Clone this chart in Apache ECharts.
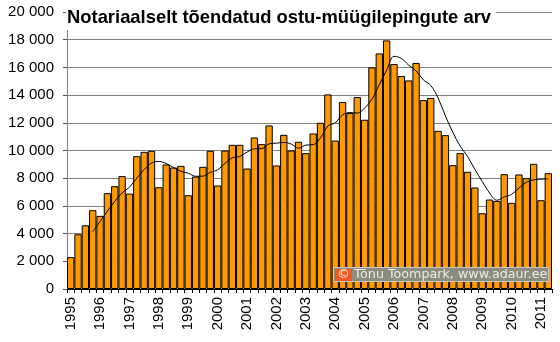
<!DOCTYPE html>
<html>
<head>
<meta charset="utf-8">
<script src="https://cdn.jsdelivr.net/npm/echarts@6/dist/echarts.min.js"></script>
<style>
html,body{margin:0;padding:0;background:#fff;}
#c{width:560px;height:342px;}
</style>
</head>
<body>
<div id="c"></div>
<script>
// Quarterly categories 1995 Q1 .. 2011 Q2
var years = [1995,1996,1997,1998,1999,2000,2001,2002,2003,2004,2005,2006,2007,2008,2009,2010,2011];
var quarters = [];
years.forEach(function(y){ for (var q=1;q<=4;q++){ if (y===2011 && q>2) break; quarters.push(y+' Q'+q); } });

// Number of contracts per quarter
var contracts = [
  2300, 3950, 4600, 5690,
  5280, 6920, 7420, 8150,
  6890, 9590, 9900, 9980,
  7350, 8990, 8770, 8890,
  6770, 8120, 8820, 9980,
  7470, 10000, 10410, 10410,
  8700, 10940, 10460, 11810,
  8920, 11130, 10000, 10630,
  9810, 11230, 12000, 14050,
  10720, 13500, 12700, 13860,
  12220, 16000, 17010, 17950,
  16240, 15380, 15060, 16320,
  13640, 13790, 11420, 11110,
  8940, 9810, 8460, 7330,
  5470, 6460, 6360, 8290,
  6220, 8270, 8000, 9040,
  6410, 8360
];

// Trend line (4-quarter average) values
var trend = [
  null, null, null, 4140,
  4880, 5620, 6330, 6940,
  7350, 8010, 8630, 9090,
  9210, 9060, 8770, 8500,
  8360, 8140, 8150, 8420,
  8600, 9070, 9470, 9570,
  9880, 10120, 10130, 10480,
  10530, 10580, 10470, 10170,
  10390, 10420, 10920, 11770,
  12000, 12570, 12740, 12700,
  13070, 13700, 14770, 15800,
  16800, 16650, 16160, 15750,
  15100, 14700, 13790, 12490,
  11320, 10320, 9580, 8640,
  7770, 6930, 6410, 6650,
  6830, 7290, 7700, 7880,
  7930, 7950
];

var yTicks = ['0','2 000','4 000','6 000','8 000','10 000','12 000','14 000','16 000','18 000','20 000'];
var titleText = 'Notariaalselt tõendatud ostu-müügilepingute arv';
var creditText = 'Tõnu Toompark, www.adaur.ee';

var chart = echarts.init(document.getElementById('c'), null, {renderer:'canvas'});
var font = '"Liberation Sans", Arial, sans-serif';
chart.setOption({
  animation: false,
  backgroundColor: '#ffffff',
  title: {
    text: titleText,
    left: 66, top: 4,
    padding: [4, 5, 3, 1],
    backgroundColor: '#ffffff',
    z: 10,
    textStyle: { fontFamily: font, fontWeight: 'bold', fontSize: 18.4, color: '#000', lineHeight: 19 }
  },
  grid: { left: 67, right: 8, top: 12, bottom: 53, containLabel: false },
  xAxis: {
    type: 'category',
    data: quarters,
    boundaryGap: true,
    axisLine: { lineStyle: { color: '#000', width: 1 } },
    axisTick: { show: true, interval: 0, alignWithLabel: false, length: 4, lineStyle: { color: '#000' } },
    axisLabel: {
      interval: 3, rotate: 90, margin: 8,
      fontFamily: font, fontSize: 15, color: '#000',
      formatter: function(v){ return v.split(' ')[0]; }
    },
    splitLine: { show: false }
  },
  yAxis: {
    type: 'value',
    min: 0, max: 20000, interval: 2000,
    axisLine: { show: true, lineStyle: { color: '#808080' } },
    axisTick: { show: true, length: 4, lineStyle: { color: '#555' } },
    axisLabel: {
      margin: 13, fontFamily: font, fontSize: 15, color: '#000',
      formatter: function(v){ return yTicks[Math.round(v/2000)]; }
    },
    splitLine: { show: true, lineStyle: { color: '#808080', width: 1 } }
  },
  series: [
    {
      type: 'bar',
      data: contracts,
      barCategoryGap: '0%',
      itemStyle: { color: '#FF9900', borderColor: '#000', borderWidth: 1 },
      z: 2
    },
    {
      type: 'line',
      data: trend,
      smooth: 0.35,
      symbol: 'none',
      connectNulls: false,
      lineStyle: { color: '#000', width: 1 },
      z: 3
    }
  ],
  graphic: {
    elements: [
      { type: 'rect', z: 100, shape: { x: 333.5, y: 267.5, width: 215, height: 14 }, style: { fill: '#8c8c80', stroke: '#c9c9bf', lineWidth: 1 } },
      { type: 'rect', z: 101, shape: { x: 335, y: 269, width: 17, height: 12 }, style: { fill: '#ee5a22' } },
      { type: 'text', z: 102, x: 343.5, y: 275, style: { text: '©', align: 'center', verticalAlign: 'middle', fill: '#ffffff', fontSize: 13, fontFamily: '"DejaVu Sans", sans-serif' } },
      { type: 'text', z: 102, x: 354, y: 275, style: { text: creditText, align: 'left', verticalAlign: 'middle', fill: '#ecece4', fontSize: 12.7, fontFamily: '"DejaVu Sans", sans-serif' } }
    ]
  }
});
</script>
</body>
</html>
